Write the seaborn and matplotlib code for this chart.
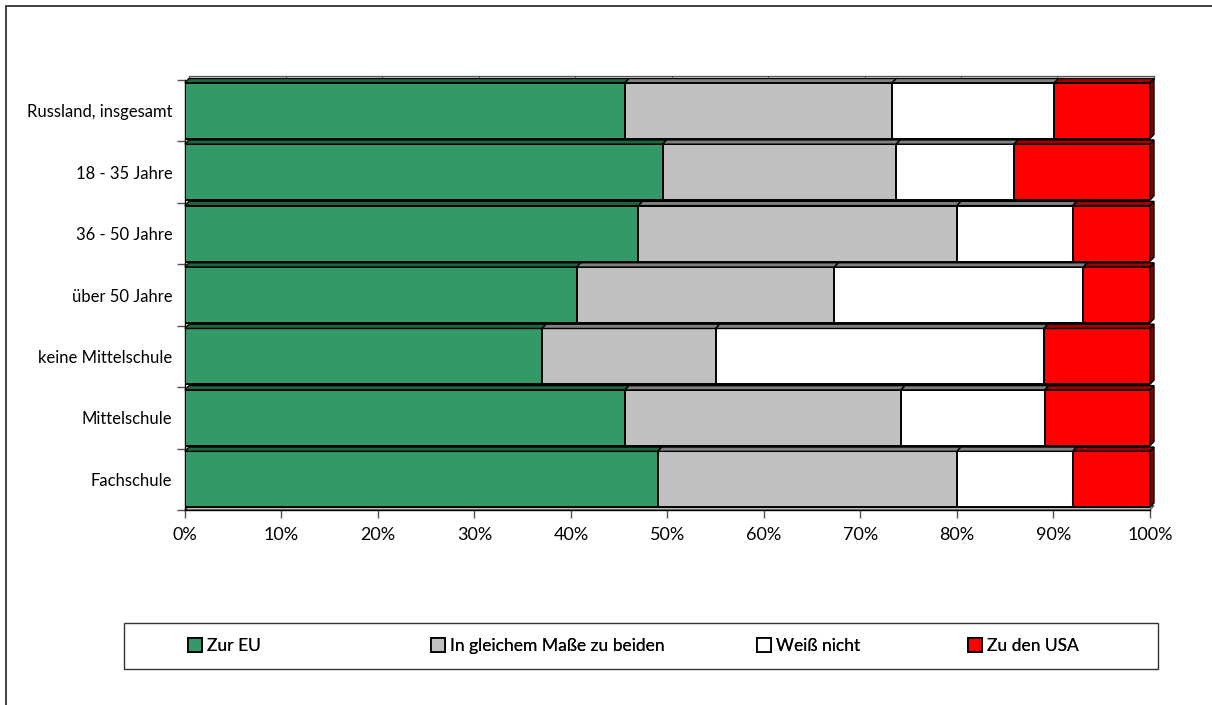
import numpy as np
import pandas as pd
import matplotlib
matplotlib.use('Agg')
import matplotlib.pyplot as plt
import seaborn as sns
from matplotlib.patches import Polygon, Rectangle, Patch

categories = ['Russland, insgesamt', '18 - 35 Jahre', '36 - 50 Jahre', 'über 50 Jahre',
              'keine Mittelschule', 'Mittelschule', 'Fachschule']
zur_eu = [45.6, 49.5, 47.0, 40.6, 37.0, 45.6, 49.0]
beide = [27.7, 24.2, 33.0, 26.7, 18.0, 28.6, 31.0]
weiss_nicht = [16.8, 12.2, 12.0, 25.8, 34.0, 14.9, 12.0]
zu_usa = [9.9, 14.1, 8.0, 6.9, 11.0, 10.9, 8.0]
series_names = ['Zur EU', 'In gleichem Maße zu beiden', 'Weiß nicht', 'Zu den USA']
xticks = list(range(0, 101, 10))

colors = ['#339966', '#c0c0c0', '#ffffff', '#ff0000']
top_colors = ['#1f6640', '#808080', '#808080', '#a00000']
legend_x = [188, 431, 757, 968]  # pixel left edge of each legend entry

plt.rcParams['font.family'] = ['Lato', 'DejaVu Sans']

df = pd.DataFrame({'Kategorie': categories, 'Zur EU': zur_eu,
                   'In gleichem Maße zu beiden': beide,
                   'Weiß nicht': weiss_nicht, 'Zu den USA': zu_usa})
cum = df[series_names].cumsum(axis=1)

fig = plt.figure(figsize=(12.12, 7.05), dpi=100)
ax = fig.add_axes([0.1526, 0.2766, 0.7962, 0.6099])

# stacked bars: draw cumulative totals, widest first
for name, col in reversed(list(zip(series_names, colors))):
    sns.barplot(x=cum[name], y=df['Kategorie'], orient='h', color=col,
                saturation=1, edgecolor='black', linewidth=1.4, width=0.91,
                errorbar=None, ax=ax, zorder=3)
if ax.get_legend() is not None:
    ax.get_legend().remove()

ax.set_xlim(0, 100)
ax.set_ylim(6.5, -0.5)

# fake 3D faces, taken from the bar geometry
dx, dy = 0.42, 0.07
front = ax.patches[-len(categories):]
for i, p in enumerate(front):
    yt, h = p.get_y(), p.get_height()
    starts = [0] + list(cum.iloc[i, :-1])
    ends = list(cum.iloc[i])
    for j in range(len(series_names)):
        x0, x1 = starts[j], ends[j]
        ax.add_patch(Polygon([(x0, yt), (x0 + dx, yt - dy), (x1 + dx, yt - dy), (x1, yt)],
                             closed=True, facecolor=top_colors[j], edgecolor='black',
                             linewidth=1.0, clip_on=False, zorder=4))
    x1 = ends[-1]
    ax.add_patch(Polygon([(x1, yt), (x1 + dx, yt - dy), (x1 + dx, yt + h - dy), (x1, yt + h)],
                         closed=True, facecolor='#800000', edgecolor='black',
                         linewidth=1.0, clip_on=False, zorder=4))

# floor and back wall edge
ax.add_patch(Polygon([(0, 6.5), (dx, 6.5 - dy), (100 + dx, 6.5 - dy), (100, 6.5)],
                     closed=True, facecolor='#c0c0c0', edgecolor='#404040',
                     linewidth=0.8, clip_on=False, zorder=2))
ax.plot([dx, 100 + dx], [-0.5 - dy, -0.5 - dy], color='#555555', lw=0.9,
        clip_on=False, zorder=2)
for t in xticks:
    ax.plot([t + dx, t + dx], [-0.5 - dy, -0.5 - dy + 0.05], color='#555555',
            lw=0.8, clip_on=False, zorder=2)

for s in ['top', 'right']:
    ax.spines[s].set_visible(False)
ax.spines['left'].set_color('black')
ax.spines['bottom'].set_color('black')
ax.spines['left'].set_linewidth(1.0)
ax.spines['bottom'].set_linewidth(1.0)

ax.set_xticks(xticks)
ax.set_xticklabels([f'{t}%' for t in xticks], fontsize=13)
ax.tick_params(axis='x', length=6, width=1, color='#555555', pad=6)
ax.set_yticks(range(len(categories)))
ax.set_yticklabels(categories, fontsize=12)
ax.set_yticks(np.arange(-0.5, len(categories), 1.0), minor=True)
ax.tick_params(axis='y', which='major', length=0, pad=9)
ax.tick_params(axis='y', which='minor', length=6, width=1, color='#555555')
ax.set_xlabel('')
ax.set_ylabel('')
ax.grid(False)

# legend box, then one entry per series at its own place
fig.add_artist(Rectangle((124 / 1212, 1 - 669 / 705), 1034 / 1212, 46 / 705,
                         transform=fig.transFigure, fill=False, edgecolor='#333333',
                         linewidth=1.0))
for name, col, lx in zip(series_names, colors, legend_x):
    leg = fig.legend([Patch(facecolor=col, edgecolor='black', linewidth=1.3)], [name],
                     loc='center left', bbox_to_anchor=(lx / 1212, 1 - 646 / 705),
                     frameon=False, fontsize=12.5, handlelength=0.8, handleheight=0.8,
                     handletextpad=0.3, borderpad=0, borderaxespad=0)
    fig.add_artist(leg)

# outer chart frame (cropped on right and bottom)
fig.add_artist(Rectangle((6 / 1212, -0.2), 1.3, 1.2 - 6 / 705,
                         transform=fig.transFigure, fill=False, edgecolor='#333333',
                         linewidth=1.3))

fig.savefig('out.png', dpi=100)
